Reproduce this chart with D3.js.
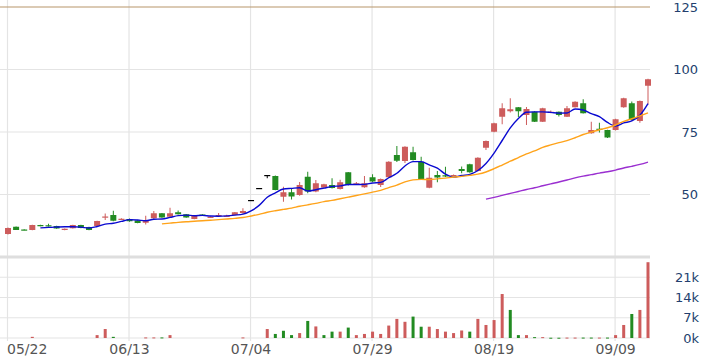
<!DOCTYPE html>
<html><head><meta charset="utf-8">
<script src="https://cdn.jsdelivr.net/npm/d3@7"></script>
<style>body{margin:0;background:#fff;} svg{display:block;}</style>
</head><body><svg id="c" width="708" height="360"></svg>
<script>
// ---- data ----
const tickLabels = ["05/22","06/13","07/04","07/29","08/19","09/09"];
const tickIndex  = [0, 15, 30, 45, 60, 75];
const priceTicks = [125, 100, 75, 50];
const volTicks   = [0, 7000, 14000, 21000];
const maPeriods  = [5, 20, 60];

const open  = [34.2,37.1,36.0,35.8,37.8,37.7,37.4,35.8,36.5,37.8, 37.0,37.4,41.0,41.8,40.1,40.2,39.6,38.7,40.5,42.5,
               41.1,42.9,42.1,40.2,42.0,40.9,41.6,41.3,41.8,42.6, 47.8,52.6,57.8,57.4,49.1,50.9,49.8,57.1,51.2,52.8,
               53.8,52.2,58.9,54.3,52.9,56.9,53.8,56.9,65.8,63.4, 66.9,63.1,52.7,57.8,57.7,57.6,60.2,62.1,59.4,68.7,
               75.1,81.1,83.3,84.9,81.8,83.1,79.1,82.9,83.1,81.1, 84.9,86.5,74.5,76.3,75.8,75.8,84.9,86.5,79.4,93.5];
const high  = [36.8,37.2,36.1,37.9,37.9,38.3,37.5,36.4,37.9,37.9, 37.1,39.5,42.4,43.5,40.5,40.4,39.7,41.5,43.4,42.6,
               44.7,43.6,42.2,41.5,42.1,41.3,42.6,41.9,43.0,44.5, 47.8,52.6,57.8,57.6,53.1,52.6,55.0,59.1,55.8,54.3,
               56.5,55.9,59.0,55.0,57.4,58.1,56.4,63.3,69.4,69.3, 69.1,65.1,60.7,59.4,61.1,58.0,61.2,62.3,64.9,71.6,
               78.7,86.5,88.5,85.0,85.0,83.3,84.7,83.6,83.2,85.4, 87.3,88.1,79.1,78.7,75.9,80.3,88.7,87.2,87.6,96.3];
const low   = [34.0,35.8,35.7,35.7,37.3,37.2,36.3,35.7,36.4,36.5, 35.7,37.3,39.8,39.3,39.9,39.1,38.5,38.0,40.0,40.7,
               40.6,42.0,40.7,40.1,41.4,40.8,41.0,41.1,41.7,42.3, 47.8,52.6,56.5,51.7,47.1,48.0,49.5,50.5,50.9,52.5,
               52.4,52.0,53.6,54.0,52.7,55.0,53.0,56.7,63.0,62.6, 63.6,56.0,52.5,54.9,57.0,57.4,58.5,58.7,59.2,67.8,
               74.9,78.1,82.8,81.0,77.8,79.0,79.0,82.5,81.2,81.0, 84.8,82.4,74.3,74.8,72.6,75.6,84.7,79.6,78.7,86.0];
const close = [36.6,35.8,35.8,37.8,37.3,37.6,36.4,36.3,37.8,36.6, 35.8,39.4,41.2,39.5,40.3,39.3,38.6,39.8,42.5,40.8,
               42.5,42.1,40.8,41.4,41.5,41.1,41.8,41.5,42.9,43.4, 47.8,52.6,57.8,51.8,50.9,49.2,53.8,51.2,54.5,54.1,
               52.6,54.9,53.8,54.5,54.5,55.2,56.2,63.1,63.5,69.1, 63.8,56.2,56.7,56.8,57.2,57.8,59.4,58.9,64.7,71.4,
               78.5,84.5,84.1,83.3,84.2,79.1,84.5,83.1,81.8,84.5, 87.1,82.5,75.8,75.9,72.8,80.1,88.5,79.8,87.4,96.1];
const volume= [0,0,0,400,0,0,0,0,0,0, 0,1000,3100,400,0,0,0,200,200,200,
               1000,0,0,0,0,0,0,0,0,200, 0,0,3100,1400,2500,1000,1700,5900,4000,1000,
               2200,2200,3600,1000,1400,2200,1400,4300,6600,5600, 7400,3900,3900,3100,2200,1700,2600,2200,6600,4500,
               6200,15200,9700,1000,1000,300,300,100,100,150, 150,150,150,150,150,1000,4500,8300,9700,26200];

// ---- styles ----
const UP = "#cd5c5c", DOWN = "#228b22", FLAT = "#000";
const maColors = ["#0a0ad0", "#ffa31a", "#9a2fd0"];
const gridColor = "#e4e4e4";

const svg = d3.select("#c");
const L = 0, R = 650;
const n = close.length;
const idx = d3.range(n);
const x = d3.scalePoint().domain(idx).range([8, 648]);
const y = d3.scaleLinear().domain([25, 125]).range([257, 7]);
const yv = d3.scaleLinear().domain([0, 28000]).range([338, 257]);

// horizontal grid (price)
svg.append("g").selectAll("line").data(priceTicks.filter(t => t !== 125)).join("line")
  .attr("x1", L).attr("x2", R).attr("y1", d => y(d)).attr("y2", d => y(d))
  .attr("stroke", gridColor).attr("stroke-width", 1.2);
// horizontal grid (volume)
svg.append("g").selectAll("line").data(volTicks).join("line")
  .attr("x1", L).attr("x2", R).attr("y1", d => yv(d)).attr("y2", d => yv(d))
  .attr("stroke", gridColor).attr("stroke-width", 1.2);
// vertical grid
svg.append("g").selectAll("line").data(tickIndex).join("line")
  .attr("x1", d => x(d) - 0.5).attr("x2", d => x(d) - 0.5).attr("y1", 0).attr("y2", 341)
  .attr("stroke", gridColor).attr("stroke-width", 1.2);
// panel separator
svg.append("line").attr("x1", L).attr("x2", R).attr("y1", y(25)).attr("y2", y(25))
  .attr("stroke", "#dedede").attr("stroke-width", 3);
// top line at 125
svg.append("line").attr("x1", L).attr("x2", R).attr("y1", y(125)).attr("y2", y(125))
  .attr("stroke", "#b8956b").attr("stroke-width", 1.2);

// volume bars
svg.append("g").selectAll("rect").data(idx.filter(i => volume[i] > 0)).join("rect")
  .attr("x", i => x(i) - 1.5).attr("width", 3)
  .attr("y", i => yv(volume[i])).attr("height", i => Math.max(1, yv(0) - yv(volume[i])))
  .attr("fill", i => (i === 0 || close[i] >= close[i - 1]) ? UP : DOWN);

// candles
const col = i => close[i] > open[i] ? UP : (close[i] < open[i] ? DOWN : FLAT);
const cg = svg.append("g");
cg.selectAll("line").data(idx).join("line")
  .attr("x1", i => x(i)).attr("x2", i => x(i))
  .attr("y1", i => y(high[i])).attr("y2", i => y(low[i]))
  .attr("stroke", col).attr("stroke-width", 1);
cg.selectAll("rect").data(idx).join("rect")
  .attr("x", i => x(i) - 3).attr("width", 6)
  .attr("y", i => y(Math.max(open[i], close[i])))
  .attr("height", i => Math.max(1.2, Math.abs(y(open[i]) - y(close[i]))))
  .attr("fill", col);

// moving averages of the closes
maPeriods.forEach((p, k) => {
  const pts = idx.filter(i => i >= p - 1).map(i => [i, d3.mean(close.slice(i - p + 1, i + 1))]);
  svg.append("path").datum(pts)
    .attr("d", d3.line().x(d => x(d[0])).y(d => y(d[1])).curve(d3.curveMonotoneX))
    .attr("fill", "none").attr("stroke", maColors[k]).attr("stroke-width", 1.4);
});

// right axis labels
const axisFont = "DejaVu Sans, Verdana, sans-serif";
svg.append("g").selectAll("text").data(priceTicks).join("text")
  .attr("x", 698).attr("y", d => y(d)).attr("dy", "0.36em")
  .attr("text-anchor", "end").attr("font-family", axisFont).attr("font-size", 13)
  .attr("fill", "#233f6e").text(d => d);
svg.append("g").selectAll("text").data(volTicks).join("text")
  .attr("x", 699).attr("y", d => yv(d)).attr("dy", "0.36em")
  .attr("text-anchor", "end").attr("font-family", axisFont).attr("font-size", 13)
  .attr("fill", "#233f6e").text(d => (d / 1000) + "k");

// date labels
svg.append("g").selectAll("text").data(tickIndex).join("text")
  .attr("x", (d, j) => j === 0 ? x(d) - 1 : x(d))
  .attr("y", 349).attr("dy", "0.36em")
  .attr("text-anchor", (d, j) => j === 0 ? "start" : "middle")
  .attr("font-family", axisFont).attr("font-size", 14)
  .attr("fill", "#555").text((d, j) => tickLabels[j]);
</script></body></html>
